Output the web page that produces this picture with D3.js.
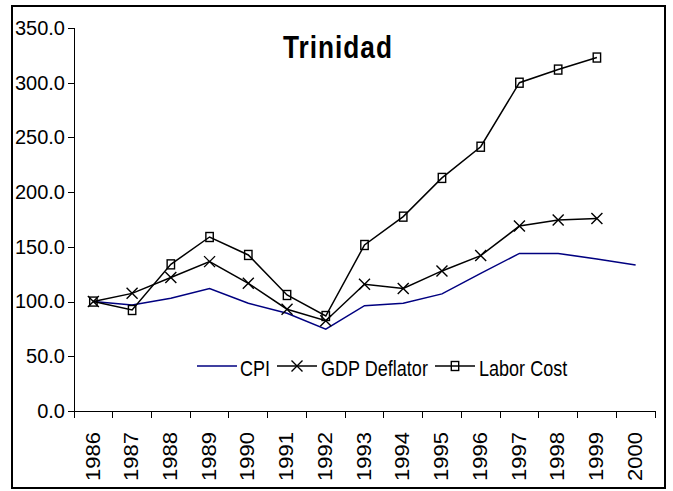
<!DOCTYPE html>
<head>
<meta charset="utf-8">
<style>
body {
  margin: 0;
  background: #fff;
  font-family: "Liberation Sans", Arial, sans-serif;
}
.frame { fill: none; stroke: #000; stroke-width: 2px; }
.axis path, .axis line { stroke: #000; stroke-width: 1px; shape-rendering: crispEdges; }
.cpi { fill: none; stroke: #000080; stroke-width: 1.5px; }
.gdp { fill: none; stroke: #000; stroke-width: 1.5px; }
.labor { fill: none; stroke: #000; stroke-width: 1.5px; }
.mark { fill: none; stroke: #000; stroke-width: 1.4px; }
</style>
</head>
<body>
<script src="https://d3js.org/d3.v7.min.js"></script>
<script>
(function() {
	// chart values
	var years = ["1986","1987","1988","1989","1990","1991","1992","1993","1994","1995","1996","1997","1998","1999","2000"];
	var cpi   = [100, 96.9, 103, 112, 98.4, 89.3, 74.7, 96.2, 98.4, 107, 125.8, 144, 144, 139, 133.4];
	var gdp   = [100, 107.5, 122, 136.5, 116.7, 93, 82.5, 115.8, 112, 128, 142, 169, 174.5, 176];
	var labor = [100, 92.3, 134, 159, 142.6, 106, 86.8, 151.7, 177.6, 213, 241.5, 300, 312, 323];
	var yTicks = [0, 50, 100, 150, 200, 250, 300, 350];
	var title = "Trinidad";
	var legendNames = ["CPI", "GDP Deflator", "Labor Cost"];

	var W = 673, H = 491,
		left = 74, right = 655, top = 28, bottom = 411,
		squeeze = 0.82;   // the original text is narrow

	var svg = d3.select("body").append("svg")
		.attr("width", W)
		.attr("height", H);

	svg.append("rect").attr("class", "frame")
		.attr("x", 12).attr("y", 6).attr("width", 653).attr("height", 482);

	var sx = d3.scaleBand().domain(years).range([left, right]);
	var sy = d3.scaleLinear().domain([0, 350]).range([bottom, top]);
	var cx = function(i) { return sx(years[i]) + sx.bandwidth() / 2; };

	//
	// axes
	//
	var gy = svg.append("g").attr("class", "axis")
		.attr("transform", "translate(" + left + ",0)")
		.call(d3.axisLeft(sy).tickValues(yTicks).tickFormat(d3.format(".1f")).tickSize(6).tickPadding(3));
	gy.selectAll("text").attr("font-size", 20).attr("fill", "#000")
		.attr("font-family", "'Liberation Sans', Arial, sans-serif");

	var gx = svg.append("g").attr("class", "axis")
		.attr("transform", "translate(0," + bottom + ")");
	gx.append("line").attr("x1", left).attr("x2", right);
	var edges = years.map(function(y) { return sx(y); }).concat([right]);
	gx.selectAll(".tk").data(edges).enter().append("line")
		.attr("x1", function(d) { return d; }).attr("x2", function(d) { return d; })
		.attr("y1", 0).attr("y2", 7);
	gy.select(".domain").remove();
	svg.append("line").attr("class", "axis")
		.attr("x1", left).attr("x2", left).attr("y1", top).attr("y2", bottom)
		.attr("stroke", "#000").attr("shape-rendering", "crispEdges");

	gx.selectAll(".yl").data(years).enter().append("text")
		.attr("transform", function(d, i) {
			return "translate(" + (cx(i) - 1) + ",21) scale(0.9,1) rotate(-90)";
		})
		.attr("text-anchor", "end")
		.attr("dy", "0.36em")
		.attr("font-size", 22)
		.attr("fill", "#000")
		.text(function(d) { return d; });

	//
	// series
	//
	var line = d3.line()
		.x(function(d, i) { return cx(i); })
		.y(function(d) { return sy(d); });

	svg.append("path").attr("class", "cpi").attr("d", line(cpi));
	svg.append("path").attr("class", "gdp").attr("d", line(gdp));
	svg.append("path").attr("class", "labor").attr("d", line(labor));

	function cross(g, x, y) {
		var s = 5.5;
		g.append("path").attr("class", "mark")
			.attr("d", "M" + (x - s) + "," + (y - s) + "L" + (x + s) + "," + (y + s) +
				"M" + (x - s) + "," + (y + s) + "L" + (x + s) + "," + (y - s));
	}
	function square(g, x, y) {
		g.append("rect").attr("class", "mark")
			.attr("x", x - 3.7).attr("y", y - 4.5)
			.attr("width", 7.4).attr("height", 9);
	}

	var marks = svg.append("g");
	gdp.forEach(function(v, i) { cross(marks, cx(i), sy(v)); });
	labor.forEach(function(v, i) { square(marks, cx(i), sy(v)); });

	//
	// title
	//
	svg.append("text")
		.attr("transform", "translate(338,58) scale(" + squeeze + ",1)")
		.attr("text-anchor", "middle")
		.attr("font-size", 32)
		.attr("font-weight", "bold")
		.attr("letter-spacing", 1.2)
		.text(title);

	//
	// legend
	//
	var ly = 366;
	var items = [
		{x1: 197, x2: 237, tx: 240, cls: "cpi", mark: null},
		{x1: 277, x2: 317, tx: 321, cls: "gdp", mark: cross},
		{x1: 435, x2: 475, tx: 479, cls: "labor", mark: square}
	];
	var lg = svg.append("g");
	items.forEach(function(it, i) {
		lg.append("line").attr("class", it.cls)
			.attr("x1", it.x1).attr("x2", it.x2).attr("y1", ly).attr("y2", ly);
		if (it.mark) it.mark(lg, (it.x1 + it.x2) / 2, ly);
		lg.append("text")
			.attr("transform", "translate(" + it.tx + "," + (ly + 10) + ") scale(" + squeeze + ",1)")
			.attr("font-size", 22)
			.text(legendNames[i]);
	});
})();
</script>
</body>
